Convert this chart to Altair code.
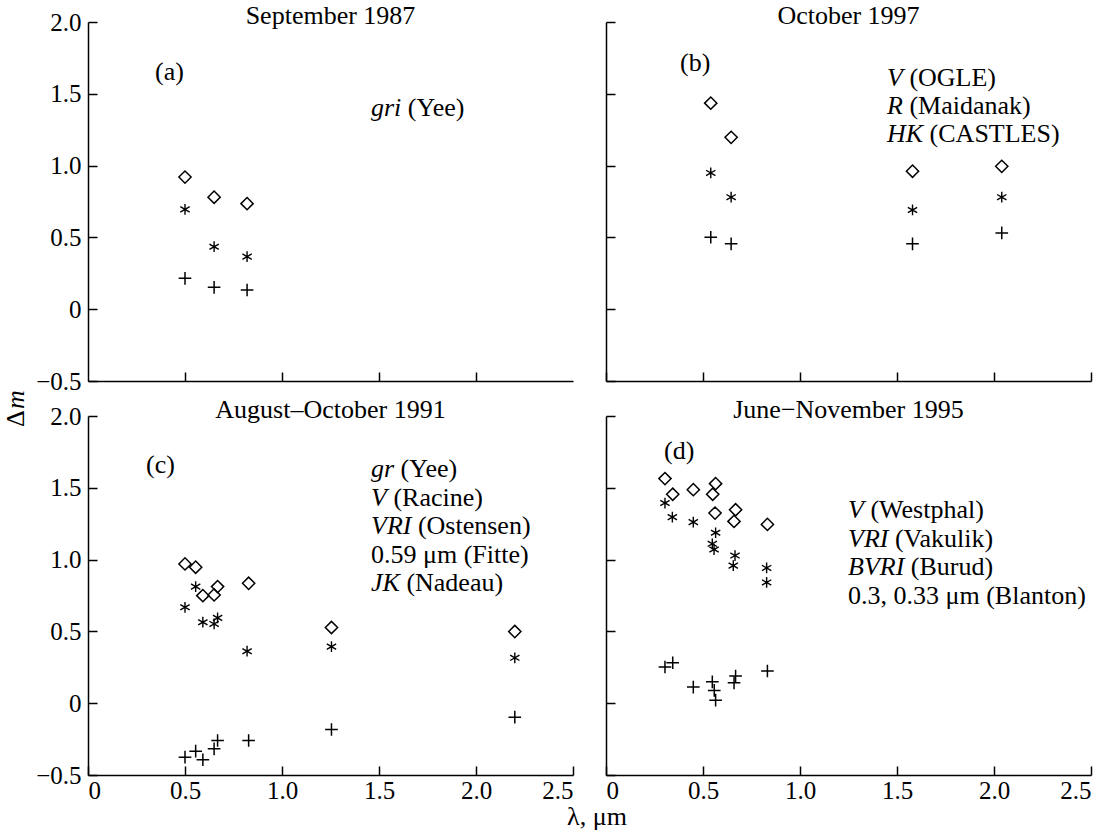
import altair as alt
import pandas as pd

# ---------------- data ----------------
# (a) September 1987
a_lam = [0.50, 0.65, 0.82]
a_dia = [0.92, 0.78, 0.735]
a_ast = [0.695, 0.435, 0.366]
a_plus = [0.215, 0.152, 0.134]

# (b) October 1997
b_lam = [0.54, 0.645, 1.58, 2.04]
b_dia = [1.435, 1.197, 0.961, 0.995]
b_ast = [0.949, 0.780, 0.691, 0.780]
b_plus = [0.501, 0.455, 0.455, 0.531]

# (c) August-October 1991
c_dia_lam = [0.50, 0.555, 0.592, 0.65, 0.668, 0.828, 1.255, 2.20]
c_dia = [0.97, 0.947, 0.749, 0.754, 0.812, 0.835, 0.527, 0.499]
c_ast_lam = [0.50, 0.555, 0.592, 0.65, 0.668, 0.82, 1.255, 2.20]
c_ast = [0.668, 0.812, 0.564, 0.552, 0.594, 0.362, 0.394, 0.316]
c_plus_lam = [0.50, 0.555, 0.592, 0.65, 0.668, 0.828, 1.255, 2.20]
c_plus = [-0.376, -0.334, -0.394, -0.318, -0.26, -0.26, -0.183, -0.097]

# (d) June-November 1995
d_dia_lam = [0.304, 0.344, 0.450, 0.565, 0.550, 0.562, 0.668, 0.660, 0.832]
d_dia = [1.564, 1.455, 1.487, 1.529, 1.455, 1.324, 1.347, 1.266, 1.245]
d_ast_lam = [0.304, 0.342, 0.450, 0.565, 0.548, 0.557, 0.665, 0.656, 0.828, 0.828]
d_ast = [1.394, 1.296, 1.261, 1.187, 1.110, 1.070, 1.028, 0.958, 0.942, 0.841]
d_plus_lam = [0.304, 0.344, 0.450, 0.548, 0.558, 0.565, 0.668, 0.660, 0.832]
d_plus = [0.252, 0.282, 0.112, 0.149, 0.089, 0.021, 0.189, 0.142, 0.224]

titles = ["September 1987", "October 1997", "August\u2013October 1991", "June\u2212November 1995"]
panel_tags = ["(a)", "(b)", "(c)", "(d)"]
legend_a = [("gri", "(Yee)")]
legend_b = [("V", "(OGLE)"), ("R", "(Maidanak)"), ("HK", "(CASTLES)")]
legend_c = [("gr", "(Yee)"), ("V", "(Racine)"), ("VRI", "(Ostensen)"),
            ("", "0.59 \u03bcm (Fitte)"), ("JK", "(Nadeau)")]
legend_d = [("V", "(Westphal)"), ("VRI", "(Vakulik)"), ("BVRI", "(Burud)"),
            ("", "0.3, 0.33 \u03bcm (Blanton)")]
x_ticks = [0, 0.5, 1.0, 1.5, 2.0, 2.5]
y_ticks = [-0.5, 0, 0.5, 1.0, 1.5, 2.0]

# ---------------- style ----------------
FONT = "Liberation Serif"
FS = 25
TFS = 26
W, H = 485, 359
XS = alt.Scale(domain=[0, 2.5], nice=False, zero=False)
YS = alt.Scale(domain=[-0.5, 2.0], nice=False, zero=False)
LBL = "datum.value == 0 ? '0' : format(datum.value, '.1f')"
PLUS = "M-1,0L1,0M0,-1L0,1"
STAR = "M0,-1L0,1M-0.87,-0.5L0.87,0.5M-0.87,0.5L0.87,-0.5"
DUMMY = pd.DataFrame({"k": [0]})

# Times italic advance widths (per 1000 em) for offsetting the roman part
TI = {"g": 500, "r": 389, "i": 278, "V": 611, "R": 611, "H": 722, "K": 667,
      "J": 444, "B": 611, "I": 333}


def txt(s, x, y, italic=False, align="left", baseline="middle", angle=0, size=TFS):
    props = dict(text=s, font=FONT, fontSize=size, align=align, baseline=baseline,
                 color="black", fontStyle="italic" if italic else "normal")
    if angle:
        props["angle"] = angle
    return alt.Chart(DUMMY).mark_text(**props).encode(x=alt.value(x), y=alt.value(y))


def legend(lines, x, y0, dy):
    out = []
    for i, (it, rom) in enumerate(lines):
        y = y0 + i * dy
        if it:
            out.append(txt(it, x, y, italic=True))
            w = sum(TI[c] for c in it) / 1000 * TFS + 0.25 * TFS
            out.append(txt(rom, x + w, y))
        else:
            out.append(txt(rom, x, y))
    return out


def panel(lam_d, dia, lam_a, ast, lam_p, plus, xlabels, ylabels, xtick_vals, texts):
    main_x = alt.Axis(orient="bottom", values=x_ticks, labels=xlabels, ticks=False,
                      domain=True, grid=False, title=None, labelExpr=LBL, labelPadding=3)
    main_y = alt.Axis(orient="left", values=y_ticks, labels=ylabels, ticks=False,
                      domain=True, grid=False, title=None, labelExpr=LBL, labelPadding=7)
    tick_x = alt.Axis(orient="top", offset=-H, values=xtick_vals, labels=False,
                      ticks=True, tickSize=9, domain=False, grid=False, title=None)
    tick_y = alt.Axis(orient="right", offset=-W, values=y_ticks, labels=False,
                      ticks=True, tickSize=9, domain=False, grid=False, title=None)

    ddf = pd.DataFrame({"lam": lam_d, "dm": dia})
    adf = pd.DataFrame({"lam": lam_a, "dm": ast})
    pdf = pd.DataFrame({"lam": lam_p, "dm": plus})

    dlay = alt.Chart(ddf).mark_point(shape="diamond", filled=False, size=150,
                                     strokeWidth=1.5, color="black", opacity=1).encode(
        x=alt.X("lam:Q", scale=XS, axis=main_x),
        y=alt.Y("dm:Q", scale=YS, axis=main_y))
    alay = alt.Chart(adf).mark_point(shape=STAR, filled=False, size=115,
                                     strokeWidth=1.4, color="black", opacity=1).encode(
        x=alt.X("lam:Q", scale=XS, axis=None),
        y=alt.Y("dm:Q", scale=YS, axis=None))
    play = alt.Chart(pdf).mark_point(shape=PLUS, filled=False, size=160,
                                     strokeWidth=1.5, color="black", opacity=1).encode(
        x=alt.X("lam:Q", scale=XS, axis=tick_x),
        y=alt.Y("dm:Q", scale=YS, axis=tick_y))
    return alt.layer(dlay, alay, play, *texts).properties(width=W, height=H)


ta = [txt(titles[0], W / 2, 2, align="center", baseline="alphabetic"),
      txt(panel_tags[0], 67, 50)] + legend(legend_a, 283, 86, 28)
tb = [txt(titles[1], W / 2, 2, align="center", baseline="alphabetic"),
      txt(panel_tags[1], 74, 41)] + legend(legend_b, 281, 56, 28)
tc = [txt(titles[2], W / 2, 2, align="center", baseline="alphabetic"),
      txt(panel_tags[2], 58, 49)] + legend(legend_c, 283, 53, 28.6) + [
      txt("\u0394", -64, 11, align="left", baseline="alphabetic", angle=270),
      txt("m", -64, -7, italic=True, align="left", baseline="alphabetic", angle=270),
      txt("\u03bb, \u03bcm", 509, 401, align="center")]
td = [txt(titles[3], W / 2, 2, align="center", baseline="alphabetic"),
      txt(panel_tags[3], 58, 35)] + legend(legend_d, 242, 94, 28.6)

pa = panel(a_lam, a_dia, a_lam, a_ast, a_lam, a_plus, False, True,
           [0.5, 1.0, 1.5, 2.0], ta)
pb = panel(b_lam, b_dia, b_lam, b_ast, b_lam, b_plus, False, False, x_ticks, tb)
pc = panel(c_dia_lam, c_dia, c_ast_lam, c_ast, c_plus_lam, c_plus, True, True, x_ticks, tc)
pd_ = panel(d_dia_lam, d_dia, d_ast_lam, d_ast, d_plus_lam, d_plus, True, False, x_ticks, td)

chart = alt.concat(pa, pb, pc, pd_, columns=2, spacing={"row": 35, "column": 33},
                   bounds="flush").properties(
    padding={"left": 3, "top": 3, "right": 5, "bottom": 5},
    background="white",
).configure_axis(
    labelFont=FONT, labelFontSize=FS, labelColor="black",
    domainColor="black", tickColor="black", domainWidth=1.5, tickWidth=1.5,
).configure_view(strokeWidth=0)

chart.save("out.html", embed_options={"renderer": "svg", "actions": False})
